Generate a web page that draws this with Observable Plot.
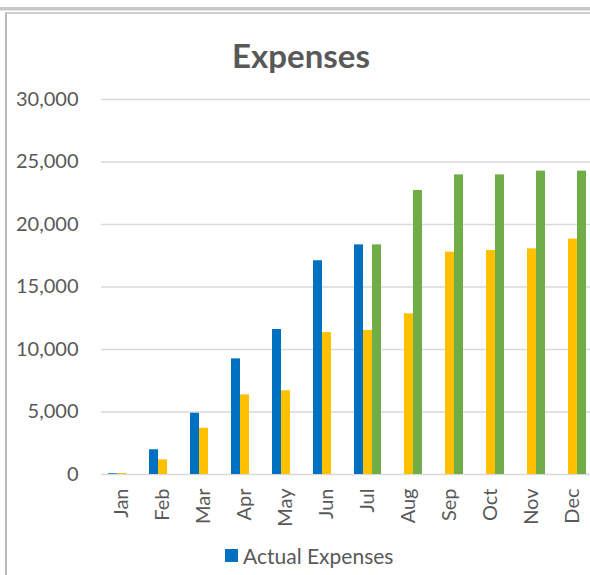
<!DOCTYPE html>
<html>
<head>
<meta charset="utf-8">
<script src="https://cdn.jsdelivr.net/npm/d3@7"></script>
<script src="https://cdn.jsdelivr.net/npm/@observablehq/plot@0.6"></script>
<style>
  html, body { margin: 0; padding: 0; background: #fff; overflow: hidden; width: 590px; height: 575px; }
  #topline { position: absolute; left: 0; top: 7px; width: 590px; height: 3px; background: #c8c8c8; border-bottom: 1px solid #e4e4e4; }
  #frame { position: absolute; left: 5px; top: 12px; width: 600px; height: 570px; border-left: 2px solid #b8b8b8; border-top: 2px solid #cfcfcf; }
  #title { position: absolute; left: 0; width: 602px; top: 35px; text-align: center; font-family: Lato, sans-serif; font-weight: bold; font-size: 33px; color: #595959; }
  #chart { position: absolute; left: 0; top: 80px; }
  #legend { position: absolute; left: 225px; top: 543px; font-family: Lato, sans-serif; font-size: 21px; color: #595959; display: flex; align-items: center; white-space: nowrap; }
  #legend .sw { width: 13px; height: 13px; margin-right: 5px; }
</style>
</head>
<body>
<div id="topline"></div>
<div id="frame"></div>
<div id="title">Expenses</div>
<div id="chart"></div>
<div id="legend"></div>
<script>
const months = ["Jan","Feb","Mar","Apr","May","Jun","Jul","Aug","Sep","Oct","Nov","Dec"];
const seriesNames = ["Actual Expenses","Budget","Forecast"];
const seriesColors = ["#0070C0","#FFC000","#70AD47"];
const actualExpenses = [60, 1980, 4900, 9250, 11600, 17100, 18370, null, null, null, null, null];
const budget = [80, 1170, 3700, 6370, 6700, 11350, 11520, 12850, 17790, 17920, 18050, 18830];
const forecast = [null, null, null, null, null, null, 18370, 22720, 23970, 23970, 24270, 24270];
const yTicks = [0, 5000, 10000, 15000, 20000, 25000, 30000];
const legendShown = ["Actual Expenses"];

const seriesValues = [actualExpenses, budget, forecast];
const data = [];
months.forEach((m, i) => {
  seriesNames.forEach((s, j) => {
    const v = seriesValues[j][i];
    if (v != null) data.push({month: m, series: s, value: v});
  });
});

const chart = Plot.plot({
  width: 600,
  height: 460,
  marginLeft: 99,
  marginRight: 5,
  marginTop: 19,
  marginBottom: 66,
  style: {fontFamily: "Lato, sans-serif", fontSize: "20px", color: "#595959", background: "transparent", maxWidth: "none", overflow: "visible"},
  fx: {domain: months, padding: 0, label: null, axis: "bottom", tickSize: 0, tickPadding: 14, tickRotate: -90},
  x: {domain: seriesNames, axis: null, paddingInner: 0, paddingOuter: 0.71},
  y: {domain: [0, 30000], ticks: yTicks, tickFormat: d3.format(","), tickSize: 0, tickPadding: 23, label: null},
  color: {domain: seriesNames, range: seriesColors},
  marks: [
    Plot.ruleY(yTicks, {stroke: "#d9d9d9", strokeWidth: 1.5}),
    Plot.barY(data, {fx: "month", x: "series", y: "value", fill: "series"})
  ]
});
document.getElementById("chart").appendChild(chart);

const legend = document.getElementById("legend");
legendShown.forEach(name => {
  const sw = document.createElement("div");
  sw.className = "sw";
  sw.style.background = seriesColors[seriesNames.indexOf(name)];
  const t = document.createElement("span");
  t.textContent = name;
  legend.appendChild(sw);
  legend.appendChild(t);
});
</script>
</body>
</html>
